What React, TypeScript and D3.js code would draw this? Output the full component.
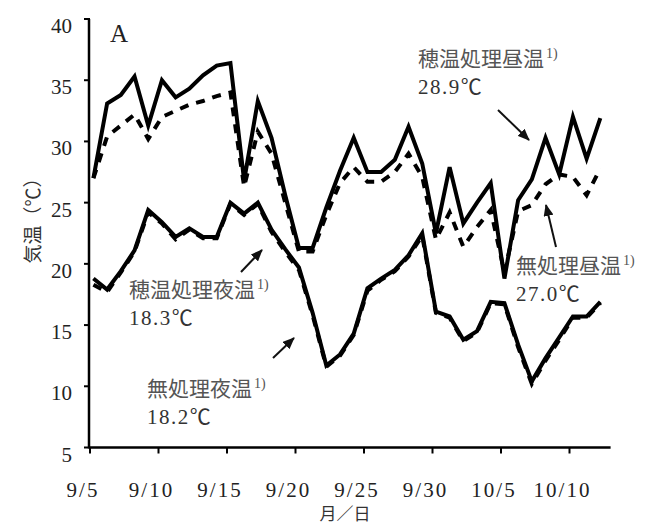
import React from "react";
import * as d3 from "d3";

// Days since 9/5 (one value per day, 9/5 .. 10/12)
const heatedDay = [27.0, 33.1, 33.8, 35.3, 31.3, 35.0, 33.6, 34.3, 35.4, 36.2, 36.4, 26.8, 33.3, 30.3, 25.6, 21.3, 21.3, 24.6, 27.6, 30.3, 27.5, 27.5, 28.5, 31.2, 28.2, 22.5, 27.9, 23.3, 25.0, 26.6, 18.8, 25.2, 26.9, 30.3, 27.3, 32.0, 28.6, 31.9];
const controlDay = [27.0, 30.4, 31.3, 32.2, 30.2, 32.0, 32.5, 33.0, 33.3, 33.7, 34.0, 26.3, 30.8, 29.0, 25.0, 21.0, 21.0, 24.0, 26.6, 27.9, 26.7, 26.7, 27.5, 29.0, 27.1, 22.0, 24.2, 21.4, 23.0, 24.4, 19.3, 24.3, 24.8, 26.5, 27.3, 27.1, 25.6, 27.8];
const heatedNight = [18.8, 17.9, 19.4, 21.1, 24.4, 23.4, 22.2, 22.9, 22.2, 22.2, 25.0, 24.1, 25.0, 22.8, 21.2, 19.7, 16.0, 11.7, 12.6, 14.3, 18.0, 18.8, 19.5, 20.7, 22.5, 16.1, 15.7, 13.8, 14.5, 16.9, 16.8, 13.4, 10.4, 12.3, 14.0, 15.7, 15.7, 16.9];
const controlNight = [18.3, 17.7, 19.3, 21.0, 24.2, 23.3, 22.0, 22.8, 22.1, 22.1, 24.9, 24.0, 24.9, 22.6, 21.0, 19.5, 15.8, 11.6, 12.5, 14.2, 17.8, 18.7, 19.4, 20.6, 22.3, 16.0, 15.6, 13.7, 14.4, 16.8, 16.7, 13.2, 10.2, 12.1, 13.8, 15.6, 15.6, 16.8];

const xTickDays = [0, 5, 10, 15, 20, 25, 30, 35];
const xTickLabels = ["9/5", "9/10", "9/15", "9/20", "9/25", "9/30", "10/5", "10/10"];
const yTicks = [5, 10, 15, 20, 25, 30, 35, 40];

const annotations = [
  { name: "穂温処理昼温", value: "28.9℃" },
  { name: "無処理昼温", value: "27.0℃" },
  { name: "穂温処理夜温", value: "18.3℃" },
  { name: "無処理夜温", value: "18.2℃" },
];

const FONT = "'Liberation Serif', 'Noto Sans CJK JP', serif";
const CJK = "'Noto Sans CJK JP', sans-serif";

export default function App() {
  const W = 646, H = 525;
  const x = d3.scaleLinear().domain([0, 38]).range([90, 610.6]);
  const y = d3.scaleLinear().domain([5, 40]).range([447.5, 19]);
  const line = d3
    .line<number>()
    .x((_, i) => x(i + 0.25))
    .y((d) => y(d));

  const annPos = [
    { tx: 418, ty: 66, arrow: [498, 110, 529, 140] },
    { tx: 516, ty: 273, arrow: [556, 247, 546, 205] },
    { tx: 129, ty: 297, arrow: [241, 272, 262, 250] },
    { tx: 147, ty: 396, arrow: [273, 358, 294, 338] },
  ];

  return (
    <svg width={W} height={H} style={{ position: "absolute", left: 0, top: 0, background: "#fff" }}>
      <defs>
        <marker id="ah" markerUnits="userSpaceOnUse" markerWidth={12} markerHeight={10} refX={11} refY={5} orient="auto">
          <path d="M0,0 L12,5 L0,10 z" fill="#111" />
        </marker>
      </defs>
      <rect width={W} height={H} fill="#fff" />

      {/* lines */}
      <path d={line(controlNight) || ""} fill="none" stroke="#000" strokeWidth={4} strokeDasharray="9 8" />
      <path d={line(heatedNight) || ""} fill="none" stroke="#000" strokeWidth={4} strokeLinejoin="miter" />
      <path d={line(controlDay) || ""} fill="none" stroke="#000" strokeWidth={4} strokeDasharray="9 8" />
      <path d={line(heatedDay) || ""} fill="none" stroke="#000" strokeWidth={4} strokeLinejoin="miter" />

      {/* axes */}
      <line x1={x(0)} x2={x(38)} y1={y(5)} y2={y(5)} stroke="#000" strokeWidth={2.5} />
      <line x1={x(0) - 1} x2={x(0) - 1} y1={y(5) + 1} y2={y(40)} stroke="#000" strokeWidth={2.5} />
      {yTicks.map((t) => (
        <g key={t}>
          <line x1={x(0) - 6} x2={x(0)} y1={y(t)} y2={y(t)} stroke="#000" strokeWidth={2} />
          <text x={72} y={y(t) + 14} textAnchor="end" fontFamily={FONT} fontSize={21} fill="#222">
            {t}
          </text>
        </g>
      ))}
      {xTickDays.map((d, i) => (
        <g key={d}>
          <line x1={x(d)} x2={x(d)} y1={y(5)} y2={y(5) + 6} stroke="#000" strokeWidth={2} />
          <text x={x(d) - 7} y={497} textAnchor="middle" fontFamily={FONT} fontSize={21} letterSpacing={2} fill="#222">
            {xTickLabels[i]}
          </text>
        </g>
      ))}

      <text x={345} y={520} textAnchor="middle" fontFamily={CJK} fontSize={17} fill="#333">
        月／日
      </text>
      <text transform="translate(40,216) rotate(-90)" textAnchor="middle" fontFamily={CJK} fontSize={19} fill="#333">
        気温（℃）
      </text>
      <text x={110} y={42} fontFamily={FONT} fontSize={25} fill="#222">
        A
      </text>

      {annotations.map((a, i) => {
        const p = annPos[i];
        return (
          <g key={a.name}>
            <text x={p.tx} y={p.ty} fontFamily={CJK} fontSize={21} fill="#555">
              {a.name}
              <tspan fontFamily={FONT} fontSize={14} dy={-8} dx={2}>1)</tspan>
            </text>
            <text x={p.tx} y={p.ty + 28} fontFamily={FONT} fontSize={21} letterSpacing={1.5} fill="#333">
              {a.value}
            </text>
            <line x1={p.arrow[0]} y1={p.arrow[1]} x2={p.arrow[2]} y2={p.arrow[3]} stroke="#111" strokeWidth={2} markerEnd="url(#ah)" />
          </g>
        );
      })}
    </svg>
  );
}
